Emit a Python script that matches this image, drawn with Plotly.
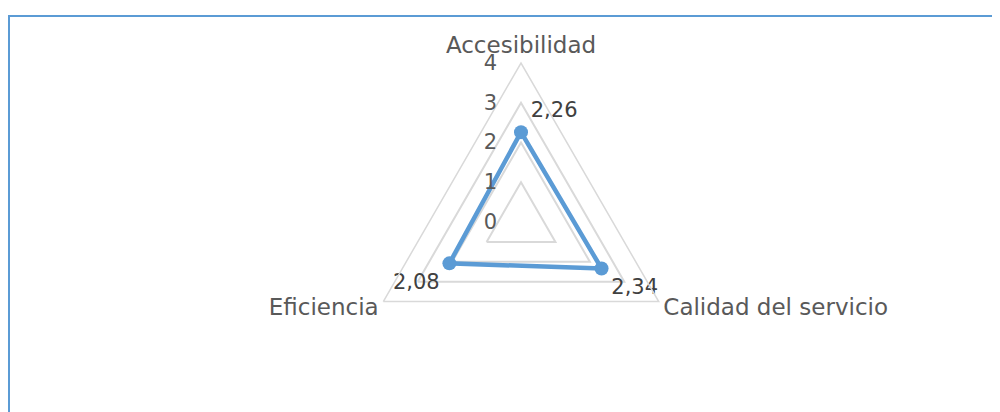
import plotly.graph_objects as go

categories = ["Accesibilidad", "Calidad del servicio", "Eficiencia"]
values = [2.26, 2.34, 2.08]
radial_ticks = [0, 1, 2, 3, 4]
label_positions = ["top right", "bottom right", "bottom left"]

BLUE = "#5B9BD5"
GRID = "#D9D9D9"
TXT = "#595959"
FONT = "DejaVu Sans, sans-serif"

fig = go.Figure()
fig.add_trace(go.Scatterpolar(
    r=values + values[:1], theta=categories + categories[:1],
    mode="lines", line=dict(color=BLUE, width=4.5),
    hoverinfo="skip", showlegend=False,
))
fig.add_trace(go.Scatterpolar(
    r=values, theta=categories,
    mode="markers+text",
    marker=dict(color=BLUE, size=14),
    text=[f"{v:.2f}".replace(".", ",") for v in values],
    textposition=label_positions,
    textfont=dict(family=FONT, size=21, color="#404040"),
    showlegend=False,
))

# lower labels lifted slightly with an empty second line
tick_text = [categories[0]] + [c + "<br> " for c in categories[1:]]

W, H = 1000, 412
OFF = 8  # page body margin
cx, cy, R = 521 - OFF, 222 - OFF, 159
fig.update_layout(
    width=W, height=H,
    margin=dict(l=0, r=0, t=0, b=0),
    paper_bgcolor="white",
    separators=",.",
    font=dict(family=FONT, color=TXT),
    polar=dict(
        domain=dict(x=[(cx - R) / W, (cx + R) / W], y=[1 - (cy + R) / H, 1 - (cy - R) / H]),
        bgcolor="white",
        gridshape="linear",
        radialaxis=dict(
            range=[0, 4], tickvals=radial_ticks, angle=90, tickangle=90,
            showline=False, gridcolor=GRID, gridwidth=1.5,
            ticks="outside", ticklen=16, tickcolor="rgba(0,0,0,0)",
            tickfont=dict(family=FONT, size=21, color=TXT),
            side="counterclockwise",
        ),
        angularaxis=dict(
            rotation=90, direction="clockwise",
            tickvals=categories, ticktext=tick_text,
            showgrid=False, showline=True, linecolor=GRID, linewidth=1.5,
            ticks="", tickfont=dict(family=FONT, size=23, color=TXT),
        ),
    ),
    shapes=[dict(type="rect", xref="paper", yref="paper",
                 x0=(9 - OFF) / W, y0=-0.2, x1=1.2, y1=1 - (16 - OFF) / H,
                 line=dict(color=BLUE, width=2))],
)
fig.write_html("out.html")
